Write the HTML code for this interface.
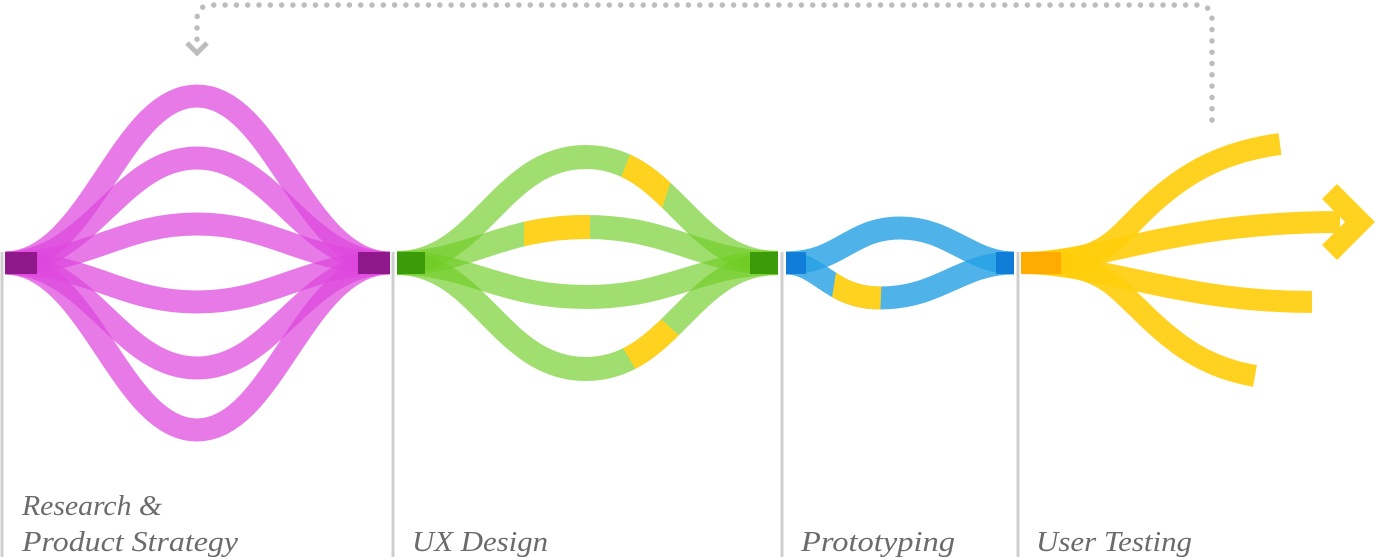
<!DOCTYPE html>
<html><head><meta charset="utf-8"><style>
html,body{margin:0;padding:0;background:#fff;width:1388px;height:557px;overflow:hidden}
text{font-family:"Liberation Serif",serif;font-style:italic;font-size:28px;fill:#6b6b6b}
</style></head><body>
<svg width="1388" height="557" viewBox="0 0 1388 557" xmlns="http://www.w3.org/2000/svg">
<defs>
<clipPath id="cg1"><polygon points="636,140 684,140 660,215 618,185"/></clipPath>
<clipPath id="cg2"><rect x="524" y="200" width="66" height="50"/></clipPath>
<clipPath id="cg3"><polygon points="618,340 662,320 684,340 645,385"/></clipPath>
<clipPath id="cb1"><polygon points="838,260 882,270 880,320 830,310"/></clipPath>
</defs>
<g stroke="#cfcfcf" stroke-width="3">
<line x1="2" y1="252" x2="2" y2="557"/>
<line x1="393" y1="252" x2="393" y2="557"/>
<line x1="782" y1="252" x2="782" y2="557"/>
<line x1="1018" y1="252" x2="1018" y2="557"/>
</g>
<path d="M1212,120 L1212,20 Q1212,5 1197,5 L212,5 Q197,5 197,20 L197,40" fill="none" stroke="#bdbdbd" stroke-width="5.5" stroke-linecap="round" stroke-dasharray="0 11.3"/>
<polyline points="187,43 197,53 207,43" fill="none" stroke="#bdbdbd" stroke-width="5"/>
<g fill="none" stroke="rgba(222,70,222,0.72)" stroke-width="23">
<path d="M5,263 C90,263 120,96 197,96 C274,96 304,263 390,263"/>
<path d="M5,263 C90,263 120,158 197,158 C274,158 304,263 390,263"/>
<path d="M5,263 C90,263 120,224 197,224 C274,224 304,263 390,263"/>
<path d="M5,263 C90,263 120,302 197,302 C274,302 304,263 390,263"/>
<path d="M5,263 C90,263 120,368 197,368 C274,368 304,263 390,263"/>
<path d="M5,263 C90,263 120,430 197,430 C274,430 304,263 390,263"/>
</g>
<rect x="5" y="252" width="32" height="22" fill="#7a0d74" opacity="0.8"/>
<rect x="358" y="252" width="32" height="22" fill="#7a0d74" opacity="0.8"/>
<g fill="none" stroke="rgba(110,205,35,0.65)" stroke-width="24">
<path d="M397,263 C480,263 500,157 586,157 C672,157 690,263 778,263"/>
<path d="M397,263 C470,263 500,227 586,227 C672,227 700,263 778,263"/>
<path d="M397,263 C470,263 500,297 586,297 C672,297 700,263 778,263"/>
<path d="M397,263 C480,263 500,369 586,369 C672,369 690,263 778,263"/>
</g>
<g fill="none" stroke="#ffd21f" stroke-width="24">
<path clip-path="url(#cg1)" d="M397,263 C480,263 500,157 586,157 C672,157 690,263 778,263"/>
<path clip-path="url(#cg2)" d="M397,263 C470,263 500,227 586,227 C672,227 700,263 778,263"/>
<path clip-path="url(#cg3)" d="M397,263 C480,263 500,369 586,369 C672,369 690,263 778,263"/>
</g>
<rect x="397" y="252" width="28" height="22" fill="#2a8a00" opacity="0.75"/>
<rect x="750" y="252" width="28" height="22" fill="#2a8a00" opacity="0.75"/>
<g fill="none" stroke="rgba(35,160,228,0.8)" stroke-width="23">
<path d="M786,263 C840,263 850,228 900,228 C950,228 970,263 1014,263"/>
<path d="M786,263 C820,263 830,298 880,298 C940,298 960,263 1014,263"/>
</g>
<path clip-path="url(#cb1)" fill="none" stroke="#ffd21f" stroke-width="23" d="M786,263 C820,263 830,298 880,298 C940,298 960,263 1014,263"/>
<rect x="786" y="252" width="20" height="22" fill="#0a74d6" opacity="0.8"/>
<rect x="996" y="252" width="18" height="22" fill="#0a74d6" opacity="0.8"/>
<g fill="none" stroke="rgba(255,205,10,0.9)" stroke-width="22">
<path d="M1021,263 C1100,263 1110,245 1140,215 C1180,175 1220,152 1280,144"/>
<path d="M1021,263 C1100,263 1170,222 1340,222"/>
<path d="M1021,263 C1100,263 1180,302 1312,302"/>
<path d="M1021,263 C1100,263 1110,282 1140,310 C1180,350 1210,368 1255,376"/>
</g>
<polygon points="1322,199 1337,184 1375,222 1337,260 1322,245 1345,222" fill="#ffd21f"/>
<rect x="1021" y="252" width="40" height="22" fill="#ffa500" opacity="0.85"/>
<text x="22" y="515" textLength="140" lengthAdjust="spacingAndGlyphs">Research &amp;</text>
<text x="22" y="551" textLength="216" lengthAdjust="spacingAndGlyphs">Product Strategy</text>
<text x="412" y="551" textLength="136" lengthAdjust="spacingAndGlyphs">UX Design</text>
<text x="801" y="551" textLength="154" lengthAdjust="spacingAndGlyphs">Prototyping</text>
<text x="1036" y="551" textLength="156" lengthAdjust="spacingAndGlyphs">User Testing</text>
</svg>
</body></html>
